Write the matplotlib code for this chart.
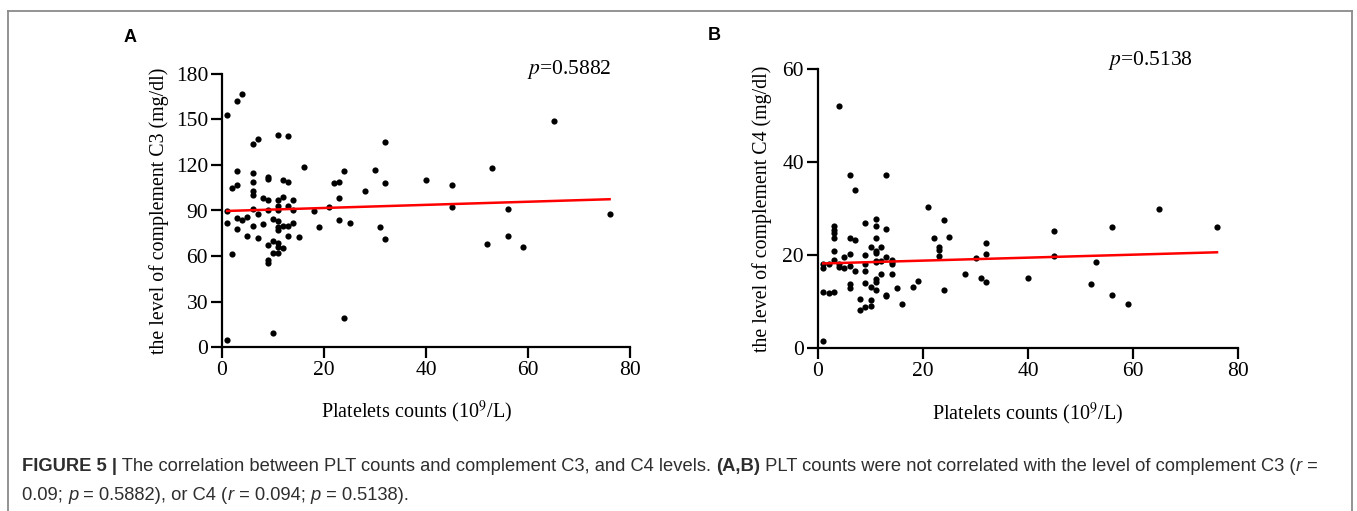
import numpy as np
import matplotlib
matplotlib.use('Agg')
import matplotlib.pyplot as plt
from matplotlib.lines import Line2D
from matplotlib.font_manager import FontProperties

plt.rcParams['font.family'] = 'Liberation Serif'
plt.rcParams['mathtext.fontset'] = 'stix'

# data: platelet count (10^9/L) vs complement level (mg/dl)
c3_plt = [1, 3, 4, 1, 1, 1, 2, 2, 3, 3, 3, 3, 4, 5, 5, 6, 7, 6, 6, 6, 6, 6, 6, 7, 7,
          8, 8, 9, 9, 9, 9, 9, 9, 9, 10, 10, 10, 10, 11, 11, 11, 11, 11, 11, 11, 11, 11, 11,
          12, 12, 12, 12, 13, 13, 13, 13, 13, 14, 14, 14, 15, 16, 18, 19, 21, 22, 23, 23, 23,
          24, 24, 25, 28, 30, 31, 32, 32, 32, 40, 45, 45, 52, 53, 56, 56, 59, 65, 76]
c3_val = [153, 162, 167, 4.4, 82, 89.5, 61, 105, 107, 116, 85, 78, 83.5, 86, 73, 134, 137, 115, 109, 103, 100, 91, 79.5, 88, 72,
          98, 81, 112, 111, 97, 90, 67, 57.5, 55.6, 84.6, 70, 62, 9.5, 140, 97, 93, 90, 83, 79, 77, 68.5, 66, 62,
          99, 110, 79.5, 65, 139, 109, 93, 79.5, 73, 97, 90.5, 82, 72.4, 119, 89.7, 79, 92.3, 108, 109, 98, 83.5,
          116, 19.4, 82, 103, 117, 79, 135, 108, 71, 110, 107, 92.4, 68.2, 118, 91, 73.3, 65.8, 149, 87.4]

c4_plt = [4, 1, 1, 1, 1, 2, 2, 3, 3, 3, 3, 3, 3, 3, 4, 4, 5, 5, 6, 6, 6, 6, 6, 6, 7, 7, 7,
          8, 8, 9, 9, 9, 9, 9, 9, 10, 10, 10, 10, 11, 11, 11, 11, 11, 11, 11, 11, 11, 11,
          12, 12, 12, 13, 13, 13, 13, 13, 14, 14, 14, 14, 15, 16, 18, 19, 21, 22, 23, 23, 23,
          24, 24, 25, 28, 30, 31, 32, 32, 32, 40, 45, 45, 52, 53, 56, 56, 59, 65, 76]
c4_val = [52.1, 1.6, 18.1, 17.2, 12, 18.1, 11.9, 12, 19, 20.8, 23.7, 24.7, 25.4, 26.2, 18, 17.4, 19.5, 17.2,
          37.1, 23.6, 20.3, 17.7, 13.8, 12.9, 33.9, 23.3, 16.5, 10.6, 8.2, 26.9, 20, 18, 16.5, 13.9, 8.8,
          21.7, 13.2, 10.3, 9.1, 27.8, 26.2, 23.7, 20.8, 20.4, 18.8, 18.5, 14.9, 14.2, 12.4,
          21.7, 18.8, 16, 37.3, 25.6, 19.5, 11.4, 11.1, 19, 18.5, 18, 16, 12.9, 9.5, 13.1, 14.5, 30.3, 23.6,
          21.8, 21.1, 19.8, 27.6, 12.5, 23.9, 16, 19.3, 15.1, 22.6, 20.3, 14.2, 15.1, 25.1, 19.8, 13.7, 18.6,
          26, 11.3, 9.5, 29.9, 26.1]

# fitted lines (intercept, slope) as drawn in the figure
fit_c3 = (89.6, 0.103)
fit_c4 = (18.15, 0.032)

p_c3 = 'p=0.5882'
p_c4 = 'p=0.5138'

W, H = 1357, 511
fig = plt.figure(figsize=(W / 100, H / 100), dpi=100)
fig.patch.set_facecolor('white')

# grey frame round the figure
for xs, ys in [([8, 1352], [11, 11]), ([8, 8], [11, 515]), ([1352, 1352], [11, 515])]:
    fig.add_artist(Line2D([x / W for x in xs], [1 - y / H for y in ys], color='#8a8a8a', lw=1.3))

axA = fig.add_axes([222 / W, 1 - 347 / H, 408 / W, 273 / H])
axB = fig.add_axes([818 / W, 1 - 348 / H, 420 / W, 279 / H])


def style_axes(ax, ymax, ystep, ylabel):
    ax.set_xlim(0, 80)
    ax.set_ylim(0, ymax)
    ax.set_xticks(np.arange(0, 81, 20))
    ax.set_yticks(np.arange(0, ymax + 1, ystep))
    for s in ['top', 'right']:
        ax.spines[s].set_visible(False)
    for s in ['left', 'bottom']:
        ax.spines[s].set_linewidth(1.6)
    ax.tick_params(direction='out', length=8, width=1.6, labelsize=15.5, pad=2)
    ax.set_xlabel(r'Platelets counts (10$^{9}$/L)', fontsize=14.5)
    ax.set_ylabel(ylabel, fontsize=14.3)


for ax, xs, ys, fit, ymax, ystep, ylab in [
        (axA, c3_plt, c3_val, fit_c3, 180, 30, 'the level of complement C3 (mg/dl)'),
        (axB, c4_plt, c4_val, fit_c4, 60, 20, 'the level of complement C4 (mg/dl)')]:
    ax.scatter(xs, ys, s=20, color='black', zorder=3, clip_on=False, linewidths=0)
    lx = np.array([min(xs), max(xs)])
    ax.plot(lx, fit[0] + fit[1] * lx, color='#ff0000', lw=1.8, zorder=4)
    style_axes(ax, ymax, ystep, ylab)

axA.xaxis.set_label_coords(0.478, -0.19)
axB.xaxis.set_label_coords(0.5, -0.19)
axA.yaxis.set_label_coords(-0.13, 0.5)
axB.yaxis.set_label_coords(-0.11, 0.5)

axA.text(0.748, 1.015, '$p$' + p_c3[1:], transform=axA.transAxes, fontsize=15.5, va='center', ha='left')
axB.text(0.69, 1.032, '$p$' + p_c4[1:], transform=axB.transAxes, fontsize=15.5, va='center', ha='left')

fig.text(130 / W, 1 - 38 / H, 'A', fontsize=13, fontweight='bold', family='Liberation Sans', ha='center', va='center')
fig.text(714 / W, 1 - 36 / H, 'B', fontsize=13, fontweight='bold', family='Liberation Sans', ha='center', va='center')

# caption, written run by run so bold and italic parts sit inline
renderer = fig.canvas.get_renderer()
cap_size = 13.2
cap_color = '#2e2e2e'
styles = {
    'n': dict(family='Liberation Sans', size=cap_size),
    'b': dict(family='Liberation Sans', size=cap_size, weight='bold'),
    'i': dict(family='Liberation Sans', size=cap_size, style='italic'),
}


def run_width(s, key):
    fp = FontProperties(**styles[key])
    w1, _, _ = renderer.get_text_width_height_descent('|' + s + '|', fp, ismath=False)
    w0, _, _ = renderer.get_text_width_height_descent('||', fp, ismath=False)
    return w1 - w0


def put_runs(x, y, runs):
    for s, key in runs:
        fig.text(x / W, 1 - y / H, s, color=cap_color, va='baseline', ha='left',
                 fontproperties=FontProperties(**styles[key]))
        x += run_width(s, key)


line1 = [('FIGURE 5 |', 'b'), (' The correlation between PLT counts and complement C3, and C4 levels. ', 'n'),
         ('(A,B)', 'b'), (' PLT counts were not correlated with the level of complement C3 (', 'n'),
         ('r', 'i'), (' =', 'n')]
line2 = [('0.09; ', 'n'), ('p', 'i'), (' = 0.5882), or C4 (', 'n'), ('r', 'i'), (' = 0.094; ', 'n'),
         ('p', 'i'), (' = 0.5138).', 'n')]
put_runs(22, 471, line1)
put_runs(22, 500, line2)

fig.savefig('out.png', dpi=100)
